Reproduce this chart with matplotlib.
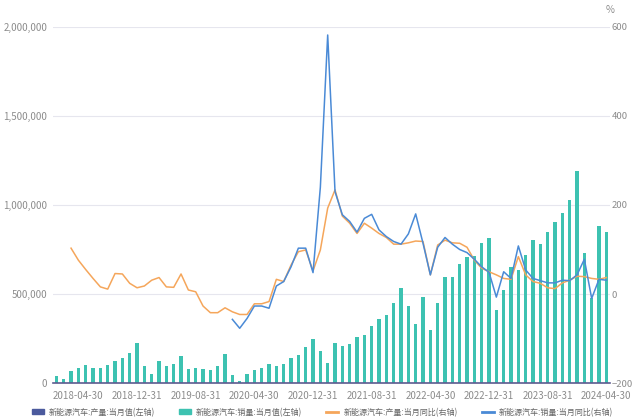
import numpy as np
import pandas as pd
import matplotlib
matplotlib.use("Agg")
import matplotlib.pyplot as plt
from matplotlib.patches import Patch
from matplotlib.lines import Line2D

plt.rcParams['font.family'] = ['Noto Sans CJK SC', 'DejaVu Sans']

# monthly, 2018-01 .. 2024-04
months = pd.date_range("2018-01-31", "2024-04-30", freq="ME")

# sales, monthly value (left axis)
sales = [38000, 25000, 68000, 82000, 102000, 84000, 84000, 101000, 121000, 138000, 170000, 225000,
         96000, 53000, 126000, 97000, 104000, 152000, 80000, 85000, 80000, 75000, 95000, 163000,
         44000, 13000, 53000, 72000, 82000, 104000, 98000, 109000, 138000, 160000, 200000, 248000,
         179000, 110000, 226000, 206000, 217000, 256000, 271000, 321000, 357000, 383000, 450000, 531000,
         431000, 334000, 484000, 299000, 447000, 596000, 593000, 666000, 708000, 714000, 786000, 814000,
         408000, 525000, 653000, 636000, 717000, 806000, 780000, 846000, 904000, 956000, 1026000, 1191000,
         729000, 477000, 883000, 850000]

# production YoY % (right axis), starts 2018-03
prod_yoy = [np.nan, np.nan, 103, 76, 55, 35, 16, 11, 46, 45, 24, 14,
            18, 31, 37, 16, 15, 45, 9, 5, -27, -42, -42, -31,
            -40, -46, -46, -22, -22, -17, 33, 28, 65, 95, 99, 52,
            99, 193, 234, 175, 159, 136, 159, 148, 136, 127, 112, 112,
            115, 119, 118, 43, 110, 121, 115, 114, 105, 76, 58, 50,
            43, 35, 33, 84, 43, 28, 24, 14, 12, 25, 31, 40,
            39, 35, 33, 37]

# sales YoY % (right axis), starts 2020-01
sales_yoy = [np.nan] * 24 + [
            -57, -77, -55, -27, -27, -32, 18, 28, 61, 103, 103, 48,
            240, 582, 230, 178, 163, 139, 170, 179, 144, 129, 118, 112,
            135, 180, 114, 43, 105, 127, 112, 100, 93, 78, 61, 49,
            -7, 50, 35, 108, 54, 35, 30, 25, 25, 31, 30, 43,
            78, -10, 33, 31]

x = np.arange(len(months))
tick_idx = x[3::8]
tick_lbl = [months[i].strftime("%Y-%m-%d") for i in tick_idx]

teal = '#3dc2b1'
navy = '#4b5a9d'
orange = '#f5a65b'
blue = '#4a8ad6'
grey = '#8c8c8c'

fig = plt.figure(figsize=(6.32, 4.19), dpi=100)
ax = fig.add_axes([0.0834, 0.0859, 0.8818, 0.8497])
ax2 = ax.twinx()

ax.bar(x, sales, width=0.45, color=teal, zorder=2)
ax.set_xlim(-0.5, len(x) - 0.5)
ax.set_ylim(0, 2000000)
ax.set_yticks([0, 500000, 1000000, 1500000, 2000000])
ax.set_yticklabels(['0', '500,000', '1,000,000', '1,500,000', '2,000,000'])
ax.grid(axis='y', color='#e6e6ee', lw=0.8, zorder=0)
ax.set_axisbelow(True)
ax.set_xticks(tick_idx)
ax.set_xticklabels(tick_lbl)

ax2.plot(x, prod_yoy, color=orange, lw=1.1, zorder=3)
ax2.plot(x, sales_yoy, color=blue, lw=1.1, zorder=4)
ax2.set_ylim(-200, 600)
ax2.set_yticks([-200, 0, 200, 400, 600])

for a in (ax, ax2):
    for s in ('top', 'left', 'right'):
        a.spines[s].set_visible(False)
    a.tick_params(length=0, labelsize=7, colors=grey, pad=4)
ax2.tick_params(pad=1, labelsize=6.8)
ax.spines['bottom'].set_color('#5c5b8f')
ax.spines['bottom'].set_linewidth(1.2)
ax2.spines['bottom'].set_visible(False)
ax.tick_params(axis='x', pad=6)
ax2.text(1.0, 1.035, '%', transform=ax2.transAxes, ha='center', va='bottom', fontsize=7, color=grey)

handles = [Patch(color=navy), Patch(color=teal),
           Line2D([], [], color=orange, lw=2), Line2D([], [], color=blue, lw=2)]
labels = ['新能源汽车:产量:当月值(左轴)', '新能源汽车:销量:当月值(左轴)',
          '新能源汽车:产量:当月同比(右轴)', '新能源汽车:销量:当月同比(右轴)']
fig.legend(handles, labels, loc='lower center', bbox_to_anchor=(0.51, -0.012), ncol=4,
           frameon=False, fontsize=5.8, labelcolor='#666666', handlelength=1.5,
           handleheight=0.6, columnspacing=3.0, handletextpad=0.6)

fig.savefig('out.png', dpi=100)
